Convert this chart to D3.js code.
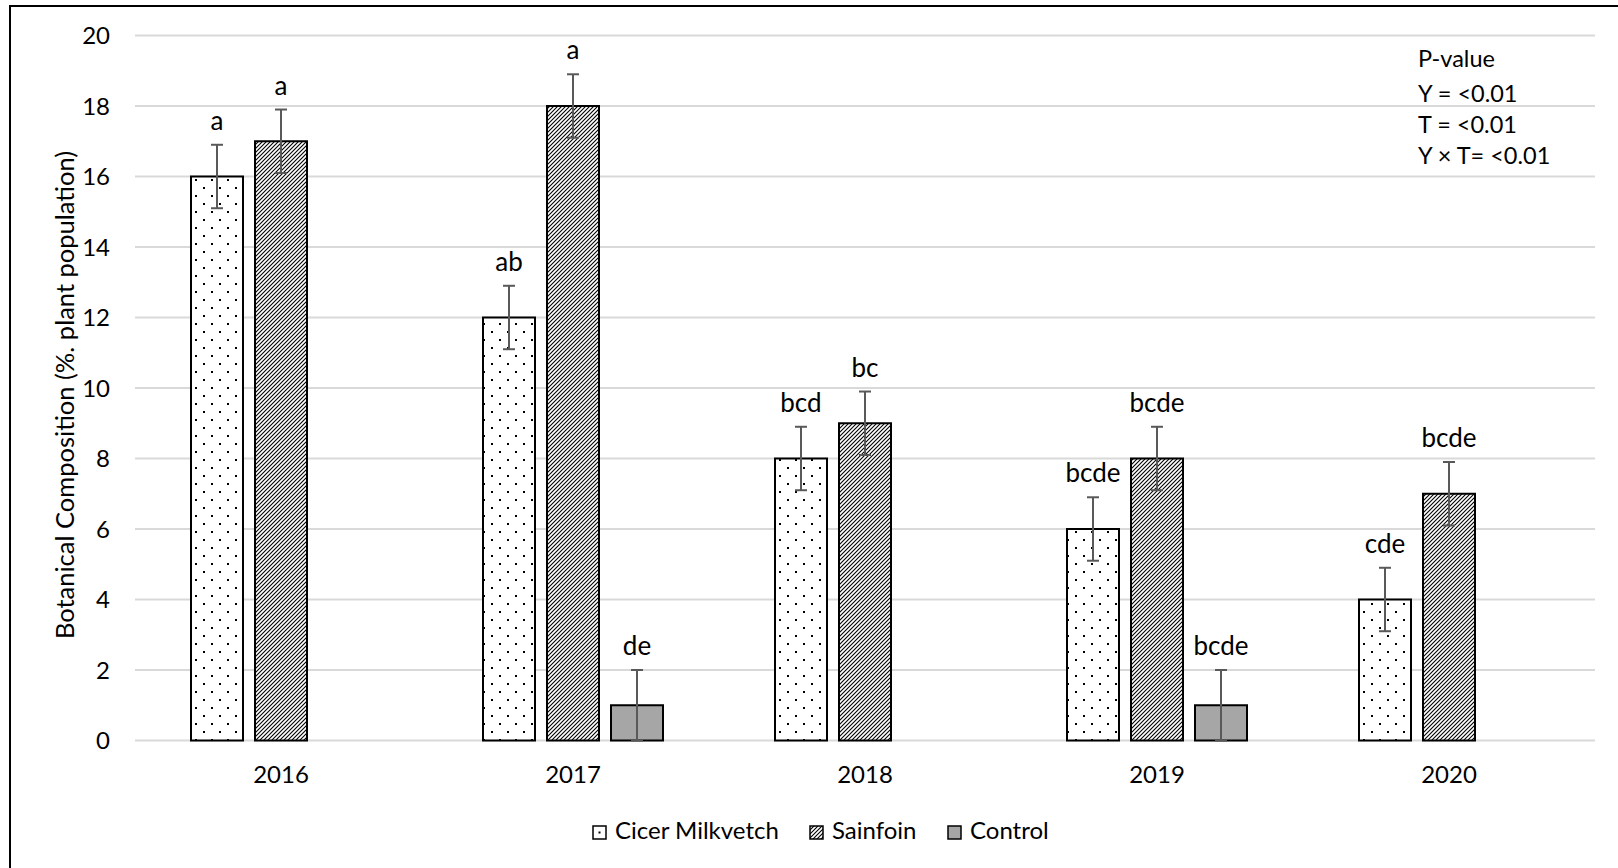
<!DOCTYPE html>
<html>
<head>
<meta charset="utf-8">
<script src="https://cdn.jsdelivr.net/npm/d3@7/dist/d3.min.js"></script>
<style>
  html, body { margin: 0; padding: 0; background: #fff; }
  svg { display: block; font-family: Lato, "Liberation Sans", sans-serif; }
</style>
</head>
<body>
<svg id="chart" width="1618" height="868"></svg>
<script>
// Botanical composition by year and treatment
const years = ["2016", "2017", "2018", "2019", "2020"];
const seriesNames = ["Cicer Milkvetch", "Sainfoin", "Control"];

const cicerValues    = [16, 12, 8, 6, 4];
const sainfoinValues = [17, 18, 9, 8, 7];
const controlValues  = [null, 1, null, 1, null];

const cicerErrors    = [0.9, 0.9, 0.9, 0.9, 0.9];
const sainfoinErrors = [0.9, 0.9, 0.9, 0.9, 0.9];
const controlErrors  = [null, 1, null, 1, null];

const cicerLetters    = ["a", "ab", "bcd", "bcde", "cde"];
const sainfoinLetters = ["a", "a", "bc", "bcde", "bcde"];
const controlLetters  = [null, "de", null, "bcde", null];

const yTicks = [0, 2, 4, 6, 8, 10, 12, 14, 16, 18, 20];
const pValueLines = ["P-value", "Y = <0.01", "T = <0.01", "Y \u00d7 T= <0.01"];
const yTitle = "Botanical Composition (%. plant population)";

const seriesValues  = [cicerValues, sainfoinValues, controlValues];
const seriesErrors  = [cicerErrors, sainfoinErrors, controlErrors];
const seriesLetters = [cicerLetters, sainfoinLetters, controlLetters];
const seriesFills   = ["url(#dots)", "url(#stripes)", "#a6a6a6"];
const legendFills   = ["url(#dotsSmall)", "url(#stripes)", "#a6a6a6"];

const svg = d3.select("#chart");
const plot = { left: 135, right: 1595, top: 35.5, bottom: 740.5 };

// fill patterns
const defs = svg.append("defs");
const dots = defs.append("pattern").attr("id", "dots")
  .attr("patternUnits", "userSpaceOnUse").attr("width", 16).attr("height", 16);
dots.append("rect").attr("width", 16).attr("height", 16).attr("fill", "#fff");
dots.append("rect").attr("x", 3).attr("y", 3).attr("width", 2).attr("height", 2).attr("fill", "#000");
dots.append("rect").attr("x", 11).attr("y", 11).attr("width", 2).attr("height", 2).attr("fill", "#000");

const dotsSmall = defs.append("pattern").attr("id", "dotsSmall")
  .attr("patternUnits", "objectBoundingBox").attr("width", 1).attr("height", 1);
dotsSmall.append("rect").attr("width", 13).attr("height", 13).attr("fill", "#fff");
dotsSmall.append("rect").attr("x", 5.5).attr("y", 5.5).attr("width", 2).attr("height", 2).attr("fill", "#000");

const stripes = defs.append("pattern").attr("id", "stripes")
  .attr("patternUnits", "userSpaceOnUse").attr("width", 4).attr("height", 4);
stripes.append("rect").attr("width", 4).attr("height", 4).attr("fill", "#fff");
stripes.append("path").attr("d", "M-1,1 L1,-1 M0,4 L4,0 M3,5 L5,3")
  .attr("stroke", "#000").attr("stroke-width", 1.1);

// scales
const x0 = d3.scaleBand().domain(years).range([plot.left, plot.right]).padding(0);
const x1 = d3.scaleBand().domain(seriesNames).range([0, x0.bandwidth()])
  .paddingInner(0.1875).paddingOuter(0.875);
const y = d3.scaleLinear().domain([0, 20]).range([plot.bottom, plot.top]);

// outer frame (top and left edges)
svg.append("line").attr("x1", 10).attr("x2", 1618).attr("y1", 6).attr("y2", 6)
  .attr("stroke", "#000").attr("stroke-width", 2);
svg.append("line").attr("x1", 10).attr("x2", 10).attr("y1", 5).attr("y2", 868)
  .attr("stroke", "#000").attr("stroke-width", 2);

// gridlines
svg.append("g").selectAll("line").data(yTicks).join("line")
  .attr("x1", plot.left).attr("x2", plot.right)
  .attr("y1", d => y(d)).attr("y2", d => y(d))
  .attr("stroke", "#d9d9d9").attr("stroke-width", 2);

// y tick labels
svg.append("g").selectAll("text").data(yTicks).join("text")
  .attr("x", 110).attr("y", d => y(d) + 8.5)
  .attr("text-anchor", "end").attr("font-size", 24).attr("fill", "#000")
  .text(d => d);

// x category labels
svg.append("g").selectAll("text").data(years).join("text")
  .attr("x", d => x0(d) + x0.bandwidth() / 2).attr("y", 783)
  .attr("text-anchor", "middle").attr("font-size", 24).attr("fill", "#000")
  .text(d => d);

// y axis title
svg.append("text")
  .attr("transform", "translate(74,395) rotate(-90)")
  .attr("text-anchor", "middle").attr("font-size", 25.5).attr("fill", "#000")
  .text(yTitle);

// bars, error bars and letters
const records = [];
seriesNames.forEach((s, si) => {
  years.forEach((yr, yi) => {
    const v = seriesValues[si][yi];
    if (v == null) return;
    records.push({ series: s, si, year: yr, value: v,
      err: seriesErrors[si][yi], letter: seriesLetters[si][yi] });
  });
});

const barG = svg.append("g");
barG.selectAll("rect").data(records).join("rect")
  .attr("x", d => x0(d.year) + x1(d.series))
  .attr("y", d => y(d.value))
  .attr("width", x1.bandwidth())
  .attr("height", d => y(0) - y(d.value))
  .attr("fill", d => seriesFills[d.si])
  .attr("stroke", "#000").attr("stroke-width", 2);

const errG = svg.append("g").attr("stroke", "#595959").attr("stroke-width", 2);
records.forEach(d => {
  const cx = x0(d.year) + x1(d.series) + x1.bandwidth() / 2;
  const yt = y(d.value + d.err), yb = y(d.value - d.err);
  errG.append("line").attr("x1", cx).attr("x2", cx).attr("y1", yt).attr("y2", yb);
  errG.append("line").attr("x1", cx - 6).attr("x2", cx + 6).attr("y1", yt).attr("y2", yt);
  errG.append("line").attr("x1", cx - 6).attr("x2", cx + 6).attr("y1", yb).attr("y2", yb);
});

svg.append("g").selectAll("text").data(records).join("text")
  .attr("x", d => x0(d.year) + x1(d.series) + x1.bandwidth() / 2)
  .attr("y", d => y(d.value + d.err) - 15)
  .attr("text-anchor", "middle").attr("font-size", 26).attr("fill", "#000")
  .text(d => d.letter);

// p-value note
const pBaselines = [67, 102, 133, 164];
svg.append("g").selectAll("text").data(pValueLines).join("text")
  .attr("x", 1418).attr("y", (d, i) => pBaselines[i])
  .attr("font-size", 23.5).attr("fill", "#000")
  .text(d => d);

// legend
const legendX = [593, 810, 948];
const legend = svg.append("g");
seriesNames.forEach((s, i) => {
  legend.append("rect").attr("x", legendX[i]).attr("y", 826)
    .attr("width", 13).attr("height", 13)
    .attr("fill", legendFills[i]).attr("stroke", "#000").attr("stroke-width", 1.5);
  legend.append("text").attr("x", legendX[i] + 22).attr("y", 839)
    .attr("font-size", 24).attr("fill", "#000").text(s);
});
</script>
</body>
</html>
